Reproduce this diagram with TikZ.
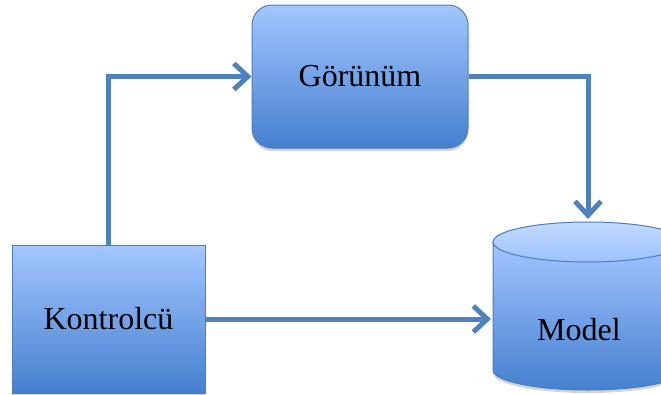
\documentclass[tikz,border=0pt]{standalone}
\usepackage{fontspec}
\setmainfont{Liberation Serif}
\usetikzlibrary{arrows.meta,shadows}
\definecolor{lineblue}{HTML}{4A7EBB}
\definecolor{arrowblue}{HTML}{4F81BD}
\definecolor{topblue}{HTML}{A3C6FF}
\definecolor{botblue}{HTML}{4580CF}
\definecolor{captop}{HTML}{C2DAFF}
\definecolor{capbot}{HTML}{9CC2FA}
\begin{document}
\begin{tikzpicture}[x=1pt,y=-1pt,
  boxshadow/.style={drop shadow={opacity=0.35,shadow xshift=0pt,shadow yshift=-3pt}},
  box/.style={draw=lineblue, line width=1pt, top color=topblue, bottom color=botblue,
    boxshadow, inner sep=0pt, font=\fontsize{32}{38}\selectfont},
  conn/.style={draw=arrowblue, line width=5pt, -{Straight Barb[length=14pt,width=26pt]}}]
\useasboundingbox (0,0) rectangle (661,394);
% Görünüm
\node[box, rounded corners=20pt, minimum width=216pt, minimum height=143pt] (g) at (360,76.5) {Görünüm};
% Kontrolcü
\node[box, minimum width=193pt, minimum height=148pt] (k) at (108.5,319) {Kontrolcü};
% Model cylinder
\path[draw=lineblue, line width=1pt, top color=topblue, bottom color=botblue, boxshadow]
  (493,242) -- (493,370) arc[start angle=180, end angle=0, x radius=95, y radius=20]
  -- (683,242) -- cycle;
\path[draw=lineblue, line width=1pt, top color=captop, bottom color=capbot]
  (588,242) ellipse[x radius=95, y radius=20];
\node[font=\fontsize{32}{38}\selectfont, inner sep=0pt] (m) at (579,330) {Model};
\coordinate (mtop) at (588,219);
\coordinate (mleft) at (491,319);
% connectors
\draw[conn] (k.north) |- (g.west);
\draw[conn] (g.east) -| (mtop);
\draw[conn] (k.east) -- (mleft);
\end{tikzpicture}
\end{document}
